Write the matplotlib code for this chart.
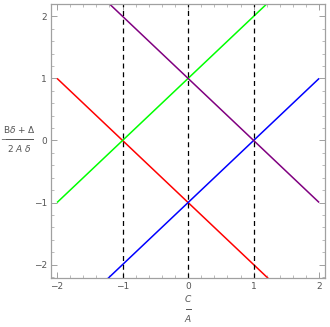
import matplotlib
matplotlib.use("Agg")
import matplotlib.pyplot as plt
import numpy as np
from matplotlib.ticker import MultipleLocator

x_range = [-2, 2]
# lines: (slope, intercept, color)
slopes = [-1, 1, 1, -1]
intercepts = [-1, 1, -1, 1]
colors = ["#ff0000", "#00ff00", "#0000ff", "#800080"]
vlines = [-1, 0, 1]
xticks = [-2, -1, 0, 1, 2]
yticks = [-2, -1, 0, 1, 2]

fig = plt.figure(figsize=(3.3, 3.27), dpi=100)
ax = fig.add_axes([0.155, 0.151, 0.83, 0.837])

xs = np.linspace(x_range[0], x_range[1], 200)
for m, b, c in zip(slopes, intercepts, colors):
    ax.plot(xs, m * xs + b, color=c, lw=1.1, solid_capstyle="butt")
for v in vlines:
    ax.axvline(v, color="black", ls=(0, (4, 3)), lw=0.9)

ax.set_xlim(-2.09, 2.09)
ax.set_ylim(-2.21, 2.2)
ax.set_xticks(xticks)
ax.set_yticks(yticks)
ax.set_xticklabels(["\u22122", "\u22121", "0", "1", "2"])
ax.set_yticklabels(["\u22122", "\u22121", "0", "1", "2"])
ax.xaxis.set_minor_locator(MultipleLocator(0.2))
ax.yaxis.set_minor_locator(MultipleLocator(0.2))
gray = "#a0a0a0"
for s in ax.spines.values():
    s.set_color(gray)
    s.set_linewidth(0.9)
ax.tick_params(which="both", direction="in", top=True, right=True, color=gray,
               labelsize=6.5, labelcolor="#555555", pad=3)
ax.tick_params(which="major", length=4, width=0.7)
ax.tick_params(which="minor", length=2, width=0.5)

tc = "#555555"
def fx(px):
    return px / 330
def fy(py):
    return 1 - py / 327
# y label: -(Bδ + Δ)/(2 A δ)
fig.text(fx(3.5), fy(139.5), "\u2212", fontsize=6, color=tc, ha="center", va="center")
fig.text(fx(20), fy(129), "B$\\delta$ + \u0394", fontsize=6.5, color=tc, ha="center", va="center")
fig.text(fx(19), fy(149), "2 $\\it{A}$ $\\delta$", fontsize=6.5, color=tc, ha="center", va="center")
fig.add_artist(plt.Line2D([fx(6), fx(33)], [fy(139), fy(139)], color=tc, lw=0.7))
# x label: C/A
fig.text(fx(188), fy(299), "C", fontsize=6.5, color=tc, ha="center", va="center", style="italic")
fig.add_artist(plt.Line2D([fx(185.5), fx(190.5)], [fy(309), fy(309)], color=tc, lw=0.7))
fig.text(fx(188), fy(320), "A", fontsize=6.5, color=tc, ha="center", va="center", style="italic")

fig.savefig("out.png", dpi=100)
